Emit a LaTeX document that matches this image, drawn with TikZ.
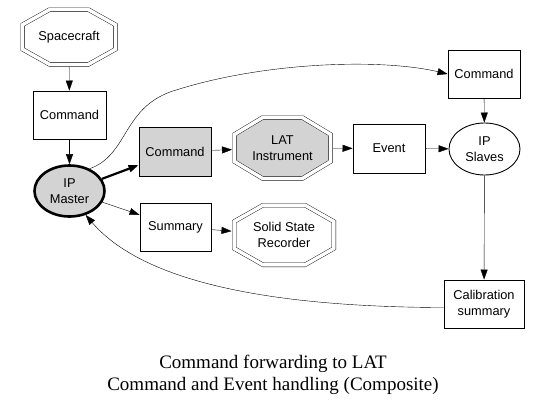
\documentclass[tikz,border=0pt]{standalone}
\usepackage{fontspec}
\newfontfamily\labelfont{Liberation Sans}
\newfontfamily\titlefont{Liberation Serif}
\usetikzlibrary{arrows.meta,shapes.geometric,calc,backgrounds}
\definecolor{shade}{RGB}{211,211,211}
% double octagon drawn round a named node
\newcommand{\octframe}[2][]{%
  \begin{pgfonlayer}{background}
  \draw[double, double distance=3.5pt, #1]
    ($(#2.north)!0.42!(#2.north west)$) -- ($(#2.north)!0.42!(#2.north east)$)
    -- ($(#2.east)!0.45!(#2.north east)$) -- ($(#2.east)!0.45!(#2.south east)$)
    -- ($(#2.south)!0.42!(#2.south east)$) -- ($(#2.south)!0.42!(#2.south west)$)
    -- ($(#2.west)!0.45!(#2.south west)$) -- ($(#2.west)!0.45!(#2.north west)$)
    -- cycle;
  \end{pgfonlayer}}
\begin{document}
\begin{tikzpicture}[x=1pt, y=-1pt, line width=0.9pt,
  every node/.style={font=\labelfont\fontsize{12.8}{16}\selectfont, align=center},
  box/.style={draw, minimum width=72pt, minimum height=48pt, inner sep=0pt},
  octo/.style={outer sep=0pt, inner sep=0pt},
  oval/.style={draw, ellipse, inner sep=0pt},
  link/.style={-{Triangle[length=10pt, width=7pt]}},
  boldlink/.style={link, line width=2.2pt},
  caption/.style={font=\titlefont\fontsize{19}{22}\selectfont, anchor=base}]
  \useasboundingbox (0,0) rectangle (543,407);
  % left column
  \node[octo, minimum width=92.7pt, minimum height=54.7pt] (craft) at (69,37) {Spacecraft};
  \node[box, minimum width=73pt] (cmd1) at (69.5,115) {Command};
  \node[oval, fill=shade, line width=2.6pt, minimum width=70pt, minimum height=51pt] (ipm) at (69.5,191) {IP\\Master};
  % middle row
  \node[box, fill=shade, minimum height=49pt] (cmd2) at (175,151.5) {Command};
  \node[octo, minimum width=95.7pt, minimum height=60.7pt] (lat) at (282.5,148) {LAT\\Instrument};
  \node[box, minimum height=49pt] (event) at (389,148.5) {Event};
  % lower row
  \node[box, minimum width=71pt] (summ) at (175.5,227) {Summary};
  \node[octo, minimum width=99.7pt, minimum height=59.7pt] (ssr) at (284,235) {Solid State\\Recorder};
  % right column
  \node[box] (cmd3) at (484,74) {Command};
  \node[oval, minimum width=71pt, minimum height=52pt] (slaves) at (484.5,149) {IP\\Slaves};
  \node[box, minimum width=80pt] (calib) at (484,304) {Calibration\\summary};
  \octframe{craft}
  \octframe[fill=shade]{lat}
  \octframe{ssr}
  % connectors
  \draw[link, shorten <=2.65pt] (craft) -- (cmd1);
  \draw[link] (cmd1) -- (ipm);
  \draw[boldlink] (ipm) -- (cmd2);
  \draw[link] (ipm) -- (summ);
  \draw[link, shorten >=2.65pt] (cmd2) -- (lat);
  \draw[link, shorten <=2.65pt] (lat) -- (event);
  \draw[link] (event) -- (slaves);
  \draw[link, shorten >=2.65pt] (summ) -- (ssr);
  \draw[link] (cmd3) -- (slaves);
  \draw[link] (slaves) -- (calib);
  \draw[link] (ipm.48) .. controls (128,155) and (122,110) .. (170,92)
    .. controls (260,62) and (380,58) .. (cmd3.west);
  \draw[link] (calib.185) .. controls (300,307) and (150,290) .. (ipm.-56);
  % caption
  \node[caption] (cap1) at (273,368) {Command forwarding to LAT};
  \node[caption] (cap2) at (273,390) {Command and Event handling (Composite)};
\end{tikzpicture}
\end{document}
